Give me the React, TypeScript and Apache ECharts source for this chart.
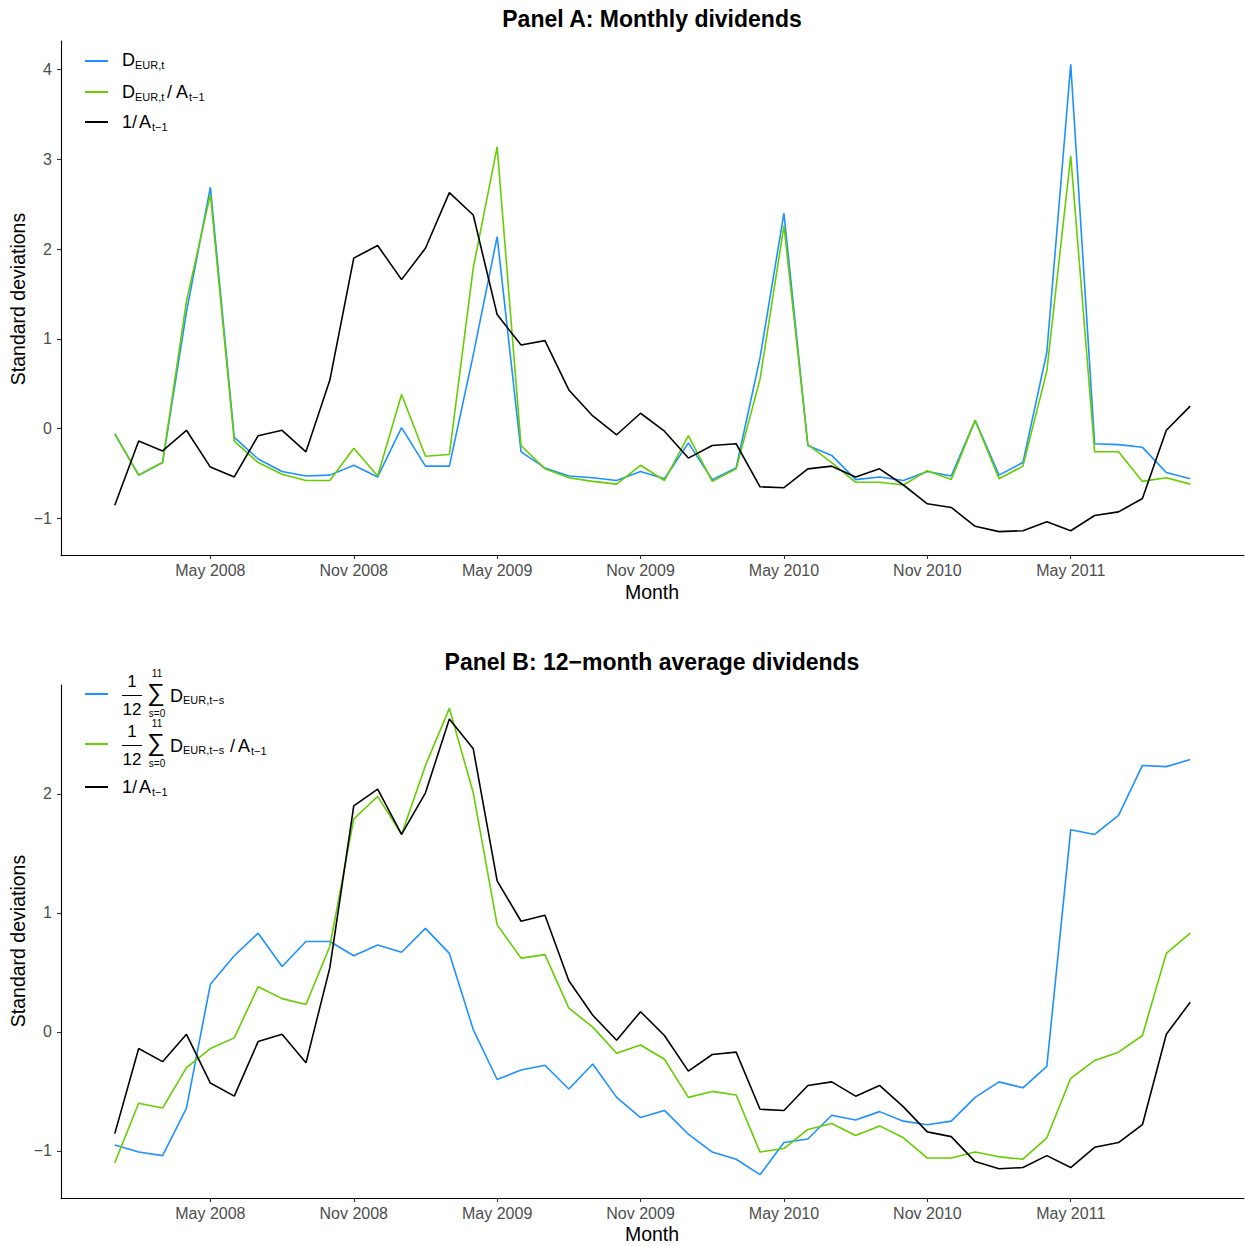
import React, { useEffect, useRef } from "react";
import * as echarts from "echarts";

// Months: Jan 2008 (index 0) ... Oct 2011 (index 45)
const tickIndex = [4, 10, 16, 22, 28, 34, 40];
const tickLabels = ["May 2008", "Nov 2008", "May 2009", "Nov 2009", "May 2010", "Nov 2010", "May 2011"];
const yTicksA = [-1, 0, 1, 2, 3, 4];
const yTicksB = [-1, 0, 1, 2];

// 1/A_{t-1} (same series in both panels)
const invA = [
  -0.855, -0.14, -0.25, -0.02, -0.43, -0.54, -0.08, -0.02, -0.26, 0.54,
  1.90, 2.04, 1.66, 2.01, 2.63, 2.38, 1.27, 0.93, 0.98, 0.43,
  0.14, -0.07, 0.17, -0.03, -0.33, -0.19, -0.17, -0.65, -0.66, -0.45,
  -0.42, -0.54, -0.45, -0.63, -0.84, -0.88, -1.09, -1.15, -1.14, -1.04,
  -1.14, -0.97, -0.93, -0.78, -0.02, 0.25,
];

// Panel A: D_EUR,t
const divA = [
  -0.06, -0.52, -0.38, 1.3, 2.69, -0.10, -0.34, -0.48, -0.53, -0.52,
  -0.41, -0.54, 0.01, -0.42, -0.42, 0.82, 2.14, -0.26, -0.44, -0.53,
  -0.55, -0.58, -0.48, -0.56, -0.16, -0.57, -0.44, 0.79, 2.40, -0.19,
  -0.30, -0.57, -0.54, -0.58, -0.48, -0.53, 0.09, -0.52, -0.38, 0.85,
  4.06, -0.17, -0.18, -0.21, -0.49, -0.56,
];

// Panel A: D_EUR,t / A_{t-1}
const divRatioA = [
  -0.06, -0.52, -0.38, 1.42, 2.61, -0.14, -0.38, -0.51, -0.58, -0.58,
  -0.22, -0.53, 0.38, -0.31, -0.29, 1.79, 3.14, -0.19, -0.45, -0.55,
  -0.59, -0.62, -0.41, -0.58, -0.08, -0.59, -0.45, 0.55, 2.26, -0.18,
  -0.38, -0.60, -0.60, -0.63, -0.47, -0.57, 0.09, -0.56, -0.42, 0.64,
  3.04, -0.26, -0.26, -0.59, -0.55, -0.62,
];

// Panel B: 12-month average D_EUR
const avgDivB = [
  -0.95, -1.01, -1.04, -0.64, 0.40, 0.64, 0.83, 0.55, 0.76, 0.76,
  0.64, 0.73, 0.67, 0.87, 0.66, 0.02, -0.40, -0.32, -0.28, -0.48,
  -0.27, -0.55, -0.72, -0.66, -0.86, -1.01, -1.07, -1.20, -0.93, -0.90,
  -0.70, -0.74, -0.67, -0.75, -0.78, -0.75, -0.55, -0.42, -0.47, -0.29,
  1.70, 1.66, 1.82, 2.24, 2.23, 2.29,
];

// Panel B: 12-month average D_EUR / A_{t-1}
const avgDivRatioB = [
  -1.10, -0.60, -0.64, -0.30, -0.14, -0.05, 0.38, 0.28, 0.23, 0.72,
  1.79, 1.98, 1.66, 2.24, 2.72, 2.01, 0.90, 0.62, 0.65, 0.20,
  0.04, -0.18, -0.11, -0.23, -0.55, -0.50, -0.53, -1.01, -0.98, -0.82,
  -0.77, -0.87, -0.79, -0.89, -1.06, -1.06, -1.01, -1.05, -1.07, -0.89,
  -0.39, -0.24, -0.17, -0.03, 0.66, 0.83,
];

const BLUE = "#1E90FF";
const GREEN = "#66CD00";
const BLACK = "#000000";
const FONT = "'Liberation Sans', Arial, Helvetica, sans-serif";

function range(arrs: number[][]) {
  let mn = Infinity, mx = -Infinity;
  arrs.forEach((a) => a.forEach((v) => { mn = Math.min(mn, v); mx = Math.max(mx, v); }));
  const pad = 0.05 * (mx - mn);
  return { min: mn - pad, max: mx + pad };
}

const fmtY = (v: number) => (v < 0 ? "\u2212" + Math.abs(v) : String(v));

function T(x: number, y: number, text: string, size: number, opts: any = {}) {
  const style: any = {
    text,
    fontSize: size,
    fontFamily: opts.family || FONT,
    fontWeight: opts.bold ? "bold" : "normal",
    fill: opts.color || "#000",
    align: opts.align || "left",
    verticalAlign: "middle",
    textAlign: opts.align || "left",
    textVerticalAlign: "middle",
  };
  if (opts.lineHeight) style.lineHeight = opts.lineHeight;
  return { type: "text", x, y, rotation: opts.rot || 0, style };
}

function L(x1: number, y1: number, x2: number, y2: number, color: string, w: number) {
  return { type: "line", shape: { x1, y1, x2, y2 }, style: { stroke: color, lineWidth: w } };
}

function fraction(yc: number, sub: string) {
  // 1/12 sum_{s=0}^{11} D_{sub}
  return [
    T(132, yc - 14, "1", 17, { align: "center" }),
    L(122, yc + 0.5, 142, yc + 0.5, "#000", 1),
    T(132, yc + 14, "12", 17, { align: "center" }),
    T(156, yc - 3.5, "\u2211", 25, { align: "center", lineHeight: 18 }),
    T(157, yc - 21.5, "11", 10, { align: "center" }),
    T(157, yc + 18, "s=0", 10, { align: "center" }),
    T(170, yc + 1, "D", 18),
    T(183, yc + 5, sub, 11),
  ];
}

function buildOption() {
  const rA = range([invA, divA, divRatioA]);
  const rB = range([invA, avgDivB, avgDivRatioB]);

  const xAxis = (g: number) => ({
    type: "value",
    gridIndex: g,
    min: -2.25,
    max: 47.25,
    axisLine: { show: true, onZero: false, lineStyle: { color: "#000", width: 1.1 } },
    axisTick: { show: true, customValues: tickIndex, length: 4, lineStyle: { color: "#333", width: 1.1 } },
    axisLabel: {
      customValues: tickIndex,
      formatter: (v: number) => tickLabels[tickIndex.indexOf(Math.round(v))] || "",
      color: "#4d4d4d",
      fontSize: 16,
      fontFamily: FONT,
      margin: 7,
    },
    splitLine: { show: false },
  });
  const yAxis = (g: number, r: any, ticks: number[]) => ({
    type: "value",
    gridIndex: g,
    min: r.min,
    max: r.max,
    axisLine: { show: true, onZero: false, lineStyle: { color: "#000", width: 1.1 } },
    axisTick: { show: true, customValues: ticks, length: 4, lineStyle: { color: "#333", width: 1.1 } },
    axisLabel: {
      customValues: ticks,
      formatter: fmtY,
      color: "#4d4d4d",
      fontSize: 16,
      fontFamily: FONT,
      margin: 9,
    },
    splitLine: { show: false },
  });

  const mk = (data: number[], color: string, g: number) => ({
    type: "line",
    xAxisIndex: g,
    yAxisIndex: g,
    data: data.map((v, i) => [i, v]),
    symbol: "none",
    lineStyle: { color, width: 1.6 },
    itemStyle: { color },
    silent: true,
  });

  const graphic: any[] = [
    T(652, 19, "Panel A: Monthly dividends", 23, { align: "center", bold: true }),
    T(652, 662, "Panel B: 12\u2212month average dividends", 23, { align: "center", bold: true }),
    T(18, 299, "Standard deviations", 19.5, { align: "center", rot: Math.PI / 2 }),
    T(18, 941, "Standard deviations", 19.5, { align: "center", rot: Math.PI / 2 }),
    T(652, 592, "Month", 19.5, { align: "center" }),
    T(652, 1234, "Month", 19.5, { align: "center" }),
    // Panel A legend
    L(85, 61, 108, 61, BLUE, 2),
    T(122, 60, "D", 18),
    T(135, 65, "EUR,t", 11),
    L(85, 92, 108, 92, GREEN, 2),
    T(122, 91.5, "D", 18),
    T(135, 96.5, "EUR,t", 11),
    T(167, 91.5, "/", 18),
    T(176, 91.5, "A", 18),
    T(189, 96.5, "t\u22121", 11),
    L(85, 122, 108, 122, BLACK, 2),
    T(122, 122, "1", 18),
    T(132, 122, "/", 18),
    T(139, 122, "A", 18),
    T(152, 127, "t\u22121", 11),
    // Panel B legend
    L(85, 694, 108, 694, BLUE, 2),
    ...fraction(695, "EUR,t\u2212s"),
    L(85, 744, 108, 744, GREEN, 2),
    ...fraction(745, "EUR,t\u2212s"),
    T(230, 746, "/", 18),
    T(238, 746, "A", 18),
    T(251, 751, "t\u22121", 11),
    L(85, 787, 108, 787, BLACK, 2),
    T(122, 787, "1", 18),
    T(132, 787, "/", 18),
    T(139, 787, "A", 18),
    T(152, 792, "t\u22121", 11),
  ];

  return {
    animation: false,
    backgroundColor: "#fff",
    grid: [
      { left: 61, right: 1, top: 41, height: 514 },
      { left: 61, right: 1, top: 685, height: 513 },
    ],
    xAxis: [xAxis(0), xAxis(1)],
    yAxis: [yAxis(0, rA, yTicksA), yAxis(1, rB, yTicksB)],
    series: [
      mk(divA, BLUE, 0),
      mk(divRatioA, GREEN, 0),
      mk(invA, BLACK, 0),
      mk(avgDivB, BLUE, 1),
      mk(avgDivRatioB, GREEN, 1),
      mk(invA, BLACK, 1),
    ],
    graphic,
  };
}

export default function App() {
  const ref = useRef<HTMLDivElement>(null);
  useEffect(() => {
    if (!ref.current) return;
    const chart = echarts.init(ref.current, undefined, { renderer: "svg" });
    chart.setOption(buildOption() as any);
    return () => chart.dispose();
  }, []);
  return (
    <div
      ref={ref}
      style={{ position: "absolute", left: 0, top: 0, width: 1245, height: 1246, background: "#fff" }}
    />
  );
}
